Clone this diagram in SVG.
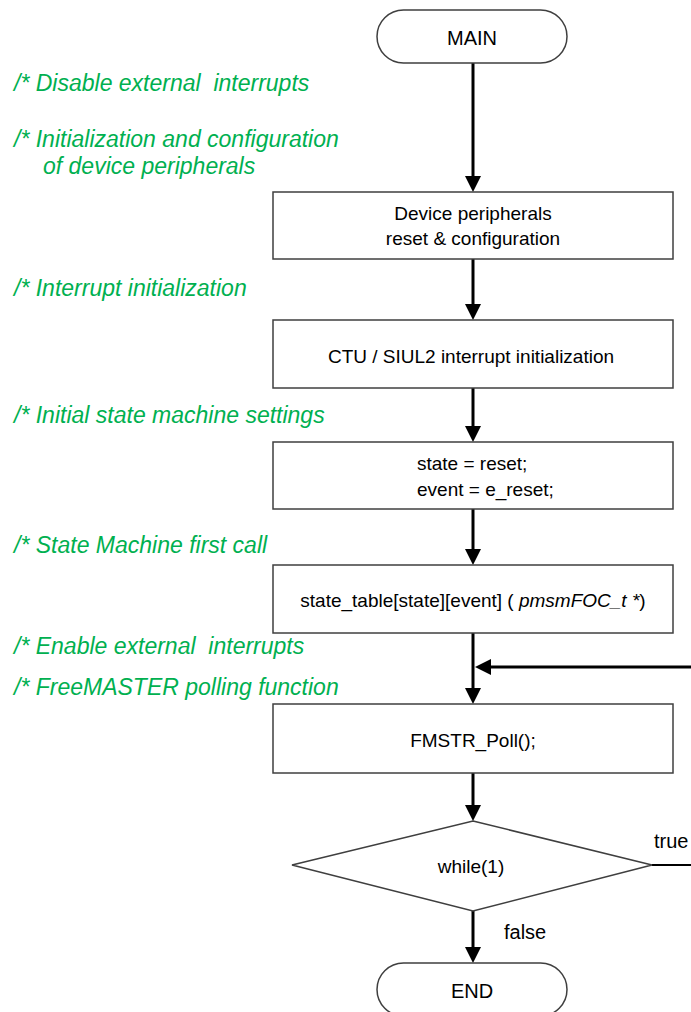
<svg xmlns="http://www.w3.org/2000/svg" width="691" height="1012" viewBox="0 0 691 1012">
  <style>
    .bg { fill: #ffffff; }
    .shape { fill: #ffffff; stroke: #3f3f3f; stroke-width: 1.5; }
    .label { font-family: "Liberation Sans", Arial, sans-serif; font-size: 19px; fill: #000000; text-anchor: middle; }
    .term { font-family: "Liberation Sans", Arial, sans-serif; font-size: 20px; fill: #000000; text-anchor: middle; }
    .branch { font-family: "Liberation Sans", Arial, sans-serif; font-size: 20px; fill: #000000; }
    .comment { font-family: "Liberation Sans", Arial, sans-serif; font-size: 23px; font-style: italic; fill: #00b050; white-space: pre; }
    .flow { fill: none; stroke: #000000; stroke-width: 3; }
    .flow-thin { fill: none; stroke: #000000; stroke-width: 2; }
  </style>
  <defs>
    <marker id="arrow" viewBox="0 0 16 16" refX="6" refY="8" markerWidth="16" markerHeight="16" markerUnits="userSpaceOnUse" orient="auto">
      <path d="M0,0 L16,8 L0,16 Z" fill="#000000"/>
    </marker>
  </defs>

  <rect class="bg" x="0" y="0" width="691" height="1012"/>

  <!-- code comments -->
  <g id="comments">
    <text class="comment" x="14" y="91">/* Disable external  interrupts</text>
    <text class="comment" x="14" y="147">/* Initialization and configuration</text>
    <text class="comment" x="43" y="174">of device peripherals</text>
    <text class="comment" x="14" y="296">/* Interrupt initialization</text>
    <text class="comment" x="14" y="423">/* Initial state machine settings</text>
    <text class="comment" x="14" y="553">/* State Machine first call</text>
    <text class="comment" x="14" y="654">/* Enable external  interrupts</text>
    <text class="comment" x="14" y="695">/* FreeMASTER polling function</text>
  </g>

  <!-- connectors -->
  <g id="connectors">
    <line class="flow" x1="473" y1="63" x2="473" y2="182" marker-end="url(#arrow)"/>
    <line class="flow" x1="473" y1="259" x2="473" y2="310" marker-end="url(#arrow)"/>
    <line class="flow" x1="473" y1="388" x2="473" y2="432" marker-end="url(#arrow)"/>
    <line class="flow" x1="473" y1="509" x2="473" y2="555" marker-end="url(#arrow)"/>
    <line class="flow" x1="473" y1="633" x2="473" y2="694" marker-end="url(#arrow)"/>
    <line class="flow" x1="693" y1="667" x2="485" y2="667" marker-end="url(#arrow)"/>
    <line class="flow" x1="473" y1="773" x2="473" y2="811" marker-end="url(#arrow)"/>
    <line class="flow" x1="473" y1="911" x2="473" y2="953" marker-end="url(#arrow)"/>
    <line class="flow-thin" x1="652" y1="865" x2="693" y2="865"/>
    <text class="branch" x="654" y="848">true</text>
    <text class="branch" x="504" y="939">false</text>
  </g>

  <g id="main">
    <rect class="shape" x="377" y="10" width="190" height="53" rx="26.5" ry="26.5"/>
    <text class="term" x="472" y="45">MAIN</text>
  </g>

  <g id="peripherals-init">
    <rect class="shape" x="273" y="192" width="400" height="67"/>
    <text class="label" x="473" y="220">Device peripherals</text>
    <text class="label" x="473" y="245">reset &amp; configuration</text>
  </g>

  <g id="interrupt-init">
    <rect class="shape" x="273" y="320" width="400" height="68"/>
    <text class="label" x="471" y="363">CTU / SIUL2 interrupt initialization</text>
  </g>

  <g id="state-init">
    <rect class="shape" x="273" y="442" width="400" height="67"/>
    <text class="label" x="417" y="470" style="text-anchor:start">state = reset;</text>
    <text class="label" x="417" y="496" style="text-anchor:start">event = e_reset;</text>
  </g>

  <g id="state-machine-call">
    <rect class="shape" x="273" y="565" width="400" height="68"/>
    <text class="label" x="473" y="607">state_table[state][event] ( <tspan font-style="italic">pmsmFOC_t *</tspan>)</text>
  </g>

  <g id="fmstr-poll">
    <rect class="shape" x="273" y="704" width="400" height="69"/>
    <text class="label" x="473" y="747">FMSTR_Poll();</text>
  </g>

  <g id="while-loop">
    <polygon class="shape" points="473,821 652,865 473,911 292,865"/>
    <text class="label" x="471" y="873">while(1)</text>
  </g>

  <g id="end">
    <rect class="shape" x="377" y="963" width="190" height="53" rx="26.5" ry="26.5"/>
    <text class="term" x="472" y="998">END</text>
  </g>
</svg>
